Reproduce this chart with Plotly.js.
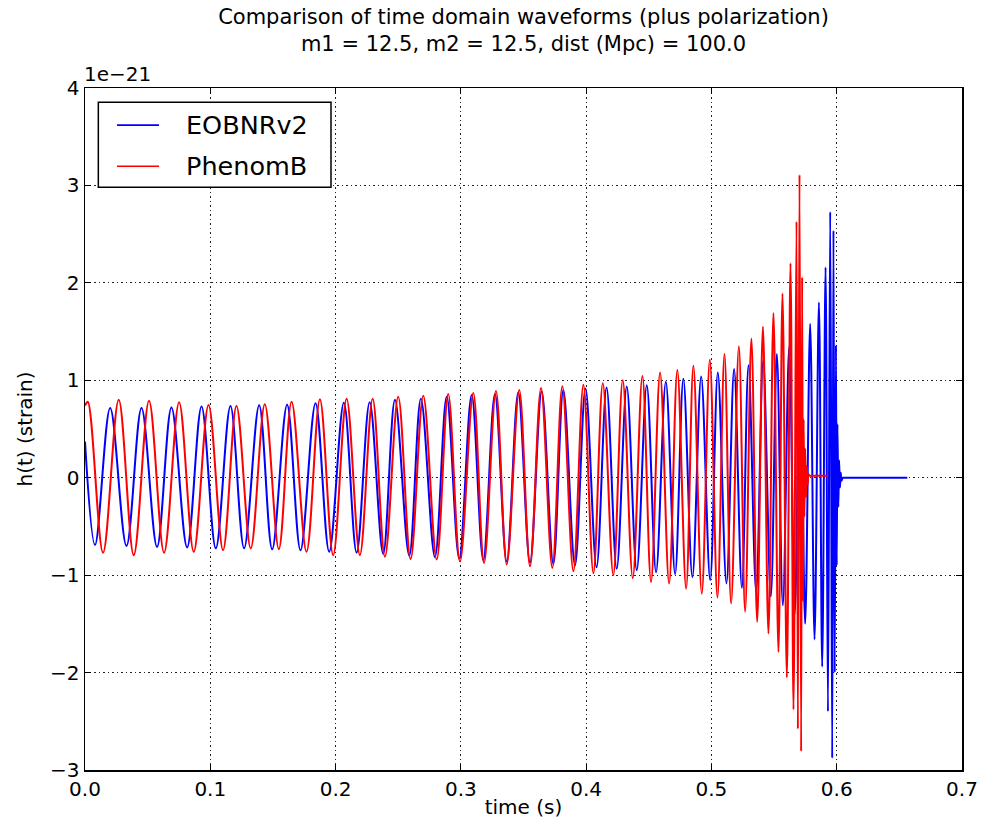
<!DOCTYPE html>
<html>
<head>
<meta charset="utf-8">
<script src="https://cdn.plot.ly/plotly-3.0.1.min.js"></script>
<style>html,body{margin:0;padding:0;background:#fff;}#chart{width:985px;height:831px;}</style>
</head>
<body>
<div id="chart"></div>
<script>
// Extrema (peaks / troughs); strain in units of 1e-21
const eobTime = [0, 0.0080, 0.0201, 0.0331, 0.0451, 0.0575, 0.0690, 0.0815, 0.0930, 0.1044,
  0.1161, 0.1270, 0.1390, 0.1494, 0.1613, 0.1720, 0.1840, 0.1949, 0.2066, 0.2168,
  0.2272, 0.2380, 0.2474, 0.2588, 0.2681, 0.2793, 0.2887, 0.2987, 0.3086, 0.3179,
  0.3272, 0.3366, 0.3458, 0.3552, 0.3645, 0.3738, 0.3818, 0.3911, 0.3995, 0.4083,
  0.4163, 0.4244, 0.4324, 0.4404, 0.4484, 0.4558, 0.4636, 0.4710, 0.4776, 0.4848,
  0.4918, 0.4990, 0.5051, 0.5120, 0.5181, 0.5243, 0.5296, 0.5357, 0.5413, 0.5474,
  0.5522, 0.5570, 0.5621, 0.5665, 0.5708, 0.5748, 0.5788, 0.5823, 0.5858, 0.5884,
  0.5911, 0.5930, 0.5948, 0.5964, 0.5974, 0.5984, 0.5994, 0.6000, 0.6006, 0.6013,
  0.6019, 0.6026, 0.6032, 0.6038, 0.6048, 0.6054, 0.6563];
const eobStrain = [0.37, -0.69, 0.715, -0.70, 0.715, -0.71, 0.72, -0.715, 0.73, -0.725,
  0.735, -0.725, 0.745, -0.735, 0.75, -0.745, 0.765, -0.76, 0.77, -0.77,
  0.775, -0.78, 0.80, -0.80, 0.81, -0.815, 0.83, -0.83, 0.85, -0.845,
  0.86, -0.86, 0.875, -0.87, 0.885, -0.885, 0.90, -0.90, 0.915, -0.92,
  0.925, -0.935, 0.935, -0.95, 0.95, -0.97, 0.985, -0.99, 1.015, -1.02,
  1.04, -1.05, 1.08, -1.085, 1.115, -1.13, 1.155, -1.17, 1.2, -1.22,
  1.27, -1.31, 1.35, -1.4, 1.45, -1.5, 1.58, -1.66, 1.8, -1.94,
  2.16, -2.4, 2.73, -2.88, 2.54, -2.0, 1.36, -0.9, 0.55, -0.3,
  0.18, -0.1, 0.05, -0.03, 0, 0, 0];

const phenTime = [0, 0.0022, 0.0144, 0.0269, 0.0389, 0.0511, 0.0631, 0.0751, 0.0868, 0.0986,
  0.1102, 0.1209, 0.1323, 0.1435, 0.1547, 0.1649, 0.1768, 0.1875, 0.1981, 0.2088,
  0.2194, 0.2296, 0.2394, 0.2500, 0.2599, 0.2700, 0.2807, 0.2899, 0.2993, 0.3099,
  0.3185, 0.3280, 0.3366, 0.3466, 0.3552, 0.3640, 0.3730, 0.3810, 0.3898, 0.3978,
  0.4058, 0.4133, 0.4217, 0.4292, 0.4372, 0.4449, 0.4518, 0.4590, 0.4662, 0.4728,
  0.4798, 0.4856, 0.4923, 0.4987, 0.5048, 0.5104, 0.5157, 0.5219, 0.5269, 0.5319,
  0.5365, 0.5411, 0.5455, 0.5495, 0.5535, 0.5567, 0.5602, 0.5631, 0.5655, 0.5679,
  0.5690, 0.5703, 0.5716, 0.5724, 0.5731, 0.5736, 0.5742, 0.5748, 0.5755, 0.5761,
  0.5768, 0.5774, 0.5780, 0.5786, 0.5922];
const phenStrain = [0.74, 0.78, -0.77, 0.80, -0.795, 0.79, -0.77, 0.775, -0.76, 0.747,
  -0.743, 0.737, -0.726, 0.754, -0.733, 0.78, -0.76, 0.805, -0.795, 0.81,
  -0.795, 0.81, -0.81, 0.83, -0.835, 0.84, -0.84, 0.86, -0.86, 0.87,
  -0.875, 0.89, -0.89, 0.90, -0.91, 0.92, -0.925, 0.94, -0.96, 0.955,
  -0.98, 0.97, -1.0, 1.0, -1.03, 1.045, -1.07, 1.08, -1.085, 1.105,
  -1.14, 1.15, -1.19, 1.21, -1.23, 1.27, -1.29, 1.35, -1.375, 1.43,
  -1.48, 1.55, -1.6, 1.69, -1.79, 1.89, -2.05, 2.2, -2.38, 2.63,
  -2.58, 3.11, -2.81, 2.06, -1.27, 0.6, -0.4, 0.3, -0.2, 0.12,
  -0.07, 0.04, 0.02, 0.02, 0.02];

const seriesNames = ['EOBNRv2', 'PhenomB'];
const xTickVals = [0.0, 0.1, 0.2, 0.3, 0.4, 0.5, 0.6, 0.7];
const yTickVals = [-3, -2, -1, 0, 1, 2, 3, 4];
const offsetText = '1e\u221221';

const FONT = 'DejaVu Sans, Bitstream Vera Sans, sans-serif';
const BLUE = '#0000ff', RED = '#ff0000';

const traces = [
  {x: eobTime, y: eobStrain, name: seriesNames[0], type: 'scatter', mode: 'lines',
   line: {color: BLUE, width: 2, shape: 'spline', smoothing: 1}},
  {x: phenTime, y: phenStrain, name: seriesNames[1], type: 'scatter', mode: 'lines',
   line: {color: RED, width: 2, shape: 'spline', smoothing: 1}}
];

const axisCommon = {
  showline: true, linecolor: '#000', linewidth: 1.5, mirror: 'ticks',
  ticks: 'inside', ticklen: 6, tickwidth: 1, tickcolor: '#000',
  showgrid: true, gridcolor: '#222', gridwidth: 1, griddash: '1.5px,3px',
  zeroline: false, tickfont: {family: FONT, size: 20, color: '#000'},
  automargin: false
};

const layout = {
  width: 985, height: 831,
  margin: {l: 85, r: 23, t: 88, b: 61},
  paper_bgcolor: '#fff', plot_bgcolor: '#fff',
  showlegend: false,
  title: {
    text: 'Comparison of time domain waveforms (plus polarization)<br>m1 = 12.5, m2 = 12.5, dist (Mpc) = 100.0',
    font: {family: FONT, size: 21, color: '#000'},
    xref: 'paper', x: 0.5, xanchor: 'center',
    yref: 'container', y: 1 - 24/831, yanchor: 'top'
  },
  xaxis: Object.assign({}, axisCommon, {
    range: [0, 0.7], tickvals: xTickVals, tickformat: '.1f',
    title: {text: 'time (s)', font: {family: FONT, size: 20, color: '#000'}, standoff: 0}
  }),
  yaxis: Object.assign({}, axisCommon, {
    range: [-3, 4], tickvals: yTickVals, tickformat: 'd',
    title: {text: 'h(t) (strain)', font: {family: FONT, size: 20, color: '#000'}, standoff: 12}
  }),
  shapes: [
    {type: 'rect', xref: 'paper', yref: 'paper', x0: 0.0152, x1: 0.2805, y0: 0.8544, y1: 0.9792,
     line: {color: '#000', width: 1.5}, fillcolor: '#fff', layer: 'above'},
    {type: 'line', xref: 'paper', yref: 'paper', x0: 0.0365, x1: 0.0844, y0: 0.9456, y1: 0.9456,
     line: {color: BLUE, width: 1.6}, layer: 'above'},
    {type: 'line', xref: 'paper', yref: 'paper', x0: 0.0365, x1: 0.0844, y0: 0.8853, y1: 0.8853,
     line: {color: RED, width: 1.6}, layer: 'above'}
  ],
  annotations: [
    {xref: 'paper', yref: 'paper', x: 0.1125, y: 0.9456, xanchor: 'left', yanchor: 'middle',
     text: seriesNames[0], showarrow: false, font: {family: FONT, size: 25.5, color: '#000'}},
    {xref: 'paper', yref: 'paper', x: 0.1125, y: 0.8853, xanchor: 'left', yanchor: 'middle',
     text: seriesNames[1], showarrow: false, font: {family: FONT, size: 25.5, color: '#000'}},
    {xref: 'paper', yref: 'paper', x: -0.003, y: 1, xanchor: 'left', yanchor: 'bottom', yshift: 0,
     text: offsetText, showarrow: false, font: {family: FONT, size: 20, color: '#000'}}
  ]
};

Plotly.newPlot('chart', traces, layout, {displayModeBar: false, staticPlot: true});
</script>
</body>
</html>
